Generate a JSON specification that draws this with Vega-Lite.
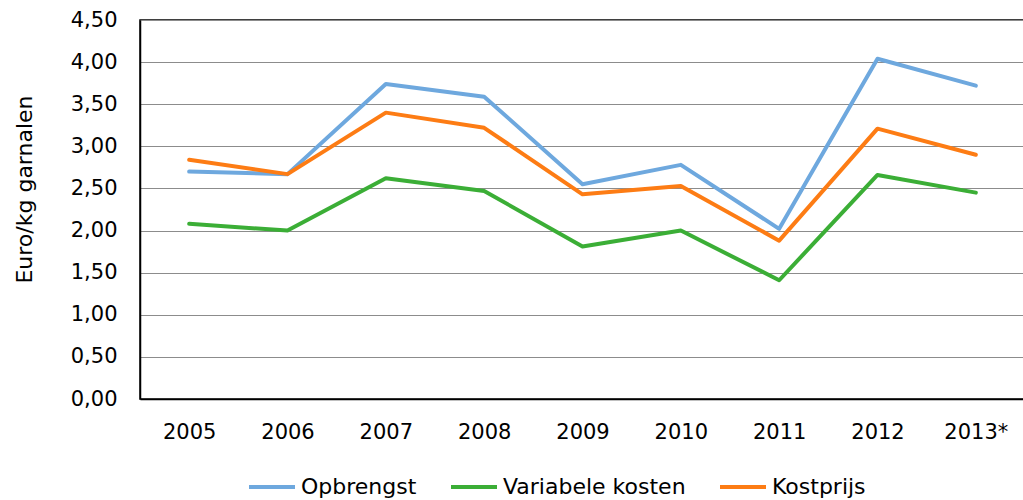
{
  "$schema": "https://vega.github.io/schema/vega-lite/v6.json",
  "autosize": {"type": "none"},
  "padding": {"left": 140, "top": 20, "right": 0, "bottom": 101},
  "width": 885,
  "height": 379,
  "background": "white",
  "config": {
    "font": "DejaVu Sans",
    "view": {"stroke": "#000000", "strokeWidth": 1.5}
  },
  "data": {
    "values": [
      {"jaar": "2005", "reeks": "Opbrengst", "waarde": 2.70},
      {"jaar": "2006", "reeks": "Opbrengst", "waarde": 2.67},
      {"jaar": "2007", "reeks": "Opbrengst", "waarde": 3.74},
      {"jaar": "2008", "reeks": "Opbrengst", "waarde": 3.59},
      {"jaar": "2009", "reeks": "Opbrengst", "waarde": 2.55},
      {"jaar": "2010", "reeks": "Opbrengst", "waarde": 2.78},
      {"jaar": "2011", "reeks": "Opbrengst", "waarde": 2.02},
      {"jaar": "2012", "reeks": "Opbrengst", "waarde": 4.04},
      {"jaar": "2013*", "reeks": "Opbrengst", "waarde": 3.72},
      {"jaar": "2005", "reeks": "Variabele kosten", "waarde": 2.08},
      {"jaar": "2006", "reeks": "Variabele kosten", "waarde": 2.00},
      {"jaar": "2007", "reeks": "Variabele kosten", "waarde": 2.62},
      {"jaar": "2008", "reeks": "Variabele kosten", "waarde": 2.47},
      {"jaar": "2009", "reeks": "Variabele kosten", "waarde": 1.81},
      {"jaar": "2010", "reeks": "Variabele kosten", "waarde": 2.00},
      {"jaar": "2011", "reeks": "Variabele kosten", "waarde": 1.41},
      {"jaar": "2012", "reeks": "Variabele kosten", "waarde": 2.66},
      {"jaar": "2013*", "reeks": "Variabele kosten", "waarde": 2.45},
      {"jaar": "2005", "reeks": "Kostprijs", "waarde": 2.84},
      {"jaar": "2006", "reeks": "Kostprijs", "waarde": 2.67},
      {"jaar": "2007", "reeks": "Kostprijs", "waarde": 3.40},
      {"jaar": "2008", "reeks": "Kostprijs", "waarde": 3.22},
      {"jaar": "2009", "reeks": "Kostprijs", "waarde": 2.43},
      {"jaar": "2010", "reeks": "Kostprijs", "waarde": 2.53},
      {"jaar": "2011", "reeks": "Kostprijs", "waarde": 1.88},
      {"jaar": "2012", "reeks": "Kostprijs", "waarde": 3.21},
      {"jaar": "2013*", "reeks": "Kostprijs", "waarde": 2.90}
    ]
  },
  "mark": {"type": "line", "strokeWidth": 4, "strokeCap": "round", "strokeJoin": "round"},
  "encoding": {
    "x": {
      "field": "jaar",
      "type": "ordinal",
      "sort": null,
      "scale": {"type": "point", "padding": 0.5},
      "axis": {
        "title": null,
        "labelAngle": 0,
        "labelFontSize": 21,
        "labelColor": "#000000",
        "labelPadding": 22,
        "ticks": false,
        "domainColor": "#000000",
        "domainWidth": 1.5,
        "grid": false
      }
    },
    "y": {
      "field": "waarde",
      "type": "quantitative",
      "scale": {"domain": [0, 4.5], "nice": false},
      "axis": {
        "title": "Euro/kg garnalen",
        "titleFontSize": 22,
        "titleFontWeight": "normal",
        "titleColor": "#000000",
        "titlePadding": 34,
        "titleY": 169,
        "values": [0, 0.5, 1, 1.5, 2, 2.5, 3, 3.5, 4, 4.5],
        "labelExpr": "replace(format(datum.value, '.2f'), '.', ',')",
        "labelFontSize": 21,
        "labelColor": "#000000",
        "labelPadding": 23,
        "ticks": false,
        "domainColor": "#000000",
        "domainWidth": 1.5,
        "grid": true,
        "gridColor": "#8c8c8c",
        "gridWidth": 1
      }
    },
    "color": {
      "field": "reeks",
      "type": "nominal",
      "sort": ["Opbrengst", "Variabele kosten", "Kostprijs"],
      "scale": {
        "domain": ["Opbrengst", "Variabele kosten", "Kostprijs"],
        "range": ["#6ea8de", "#3bae36", "#fd7c14"]
      },
      "legend": {
        "title": null,
        "orient": "none",
        "direction": "horizontal",
        "legendX": 107,
        "legendY": 442,
        "symbolType": "stroke",
        "symbolSize": 2116,
        "symbolStrokeWidth": 4,
        "labelFontSize": 22,
        "labelLimit": 400,
        "labelColor": "#000000",
        "labelOffset": 4,
        "columnPadding": 26
      }
    }
  }
}
